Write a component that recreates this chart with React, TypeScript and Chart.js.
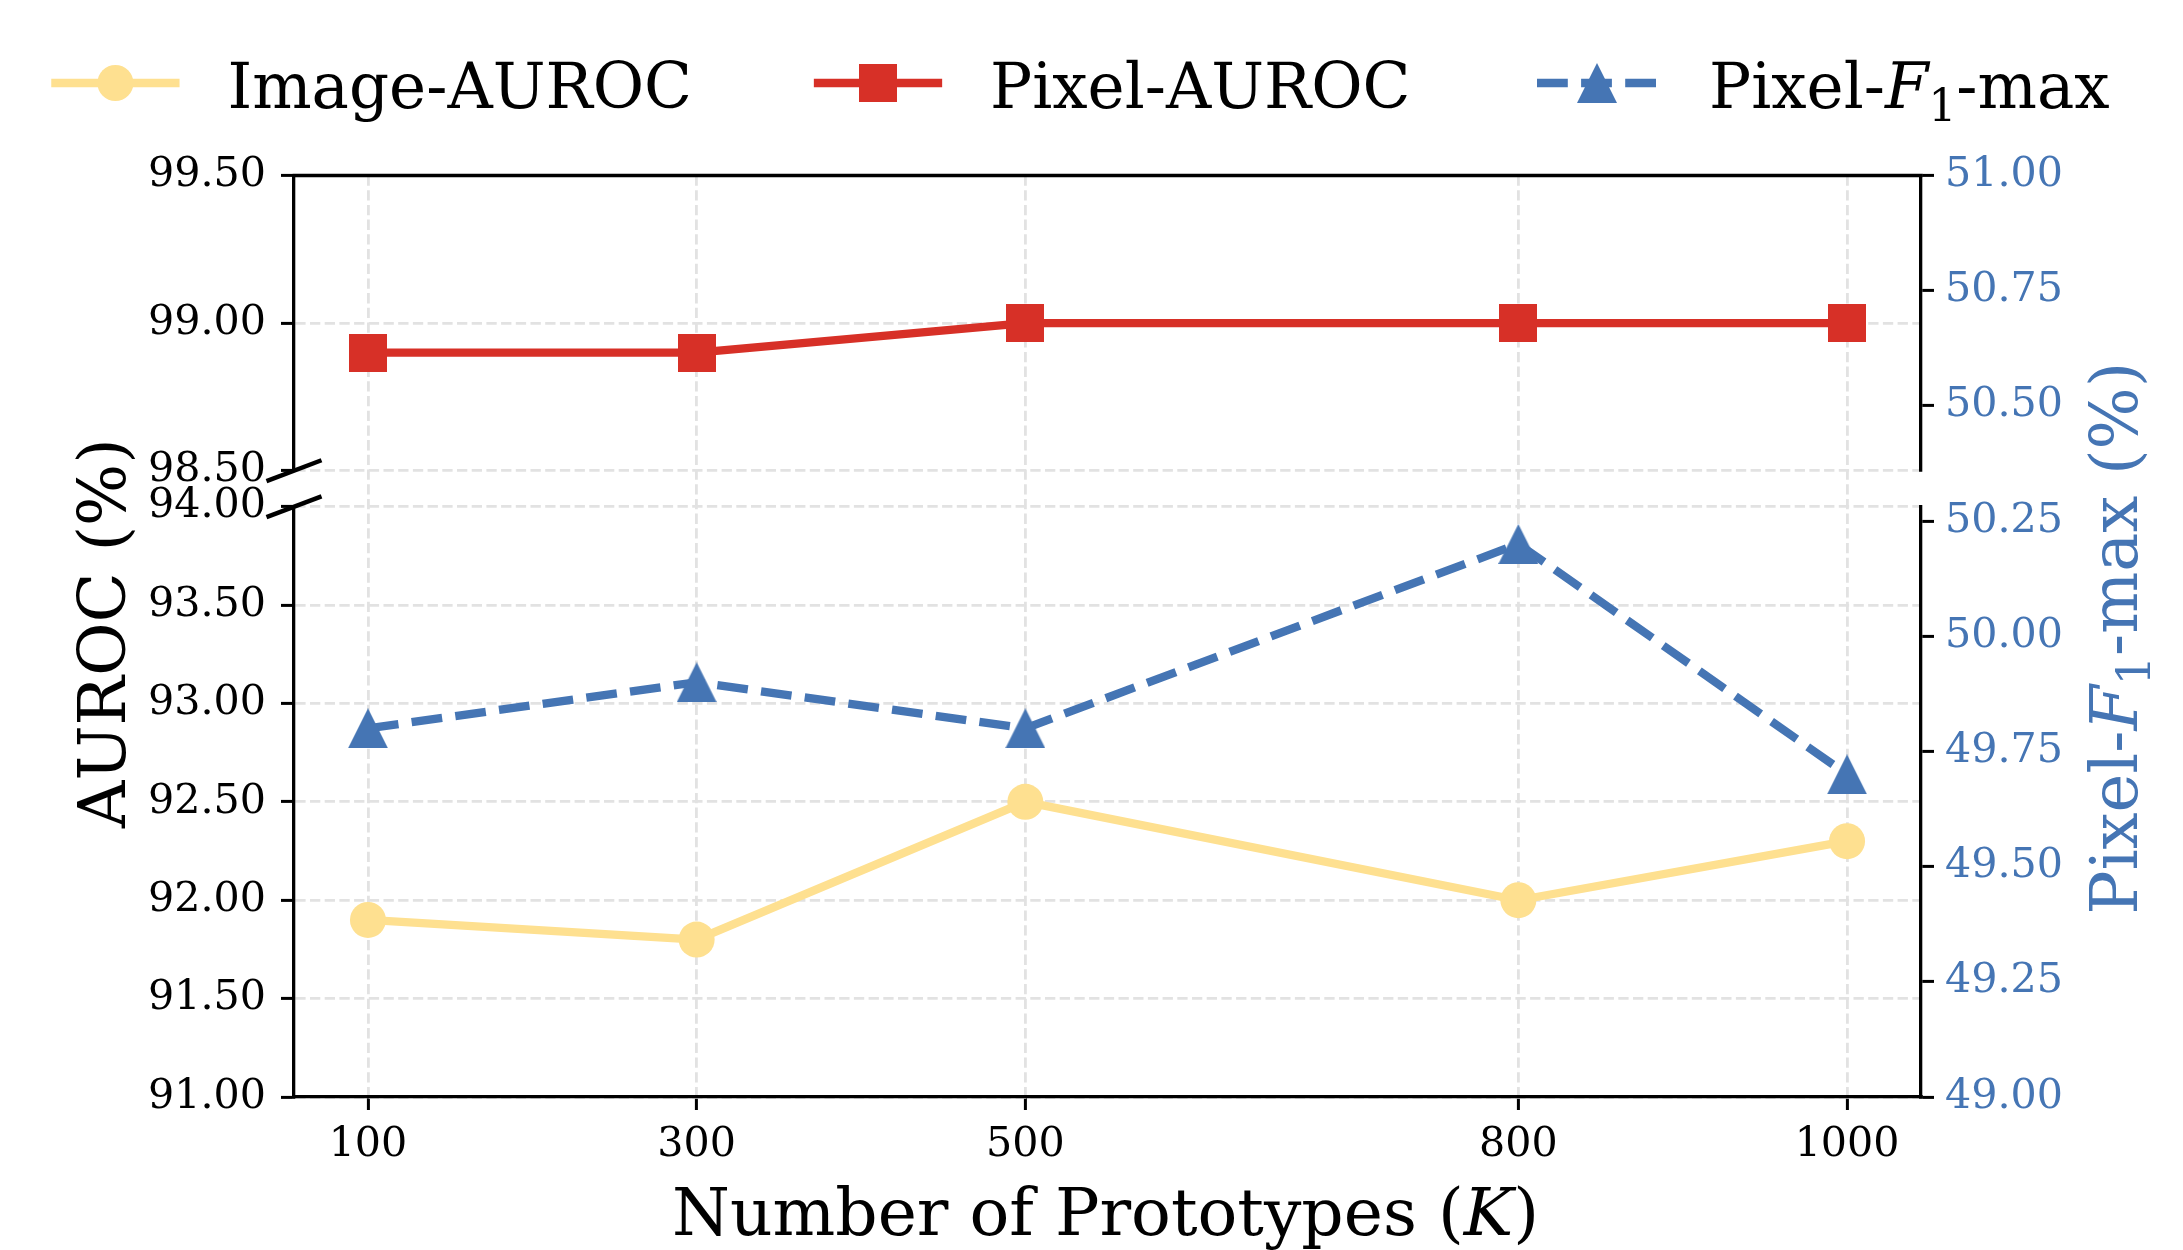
import React, { useEffect, useRef } from 'react';
import { Chart, registerables } from 'chart.js';

Chart.register(...registerables);

// ---- data ----
const K_VALUES = [100, 300, 500, 800, 1000];
const IMAGE_AUROC = [91.9, 91.8, 92.5, 92.0, 92.3];
const PIXEL_AUROC = [98.9, 98.9, 99.0, 99.0, 99.0];
const PIXEL_F1_MAX = [49.8, 49.9, 49.8, 50.2, 49.7];

// ---- ticks and ranges ----
const X_TICKS = [100, 300, 500, 800, 1000];
const X_RANGE = [55, 1045];
const UPPER_AUROC_TICKS = [98.5, 99.0, 99.5];
const UPPER_AUROC_RANGE = [98.5, 99.5];
const LOWER_AUROC_TICKS = [91.0, 91.5, 92.0, 92.5, 93.0, 93.5, 94.0];
const LOWER_AUROC_RANGE = [91.0, 94.0];
const UPPER_F1_TICKS = [50.5, 50.75, 51.0];
const UPPER_F1_RANGE = [50.359, 51.0];
const LOWER_F1_TICKS = [49.0, 49.25, 49.5, 49.75, 50.0, 50.25];
const LOWER_F1_RANGE = [49.0, 50.281];

// ---- styling ----
const W = 2183;
const H = 1250;
const SERIF = '"DejaVu Serif", serif';
const YELLOW = '#fee090';
const RED = '#d73027';
const BLUE = '#4575b4';
const GRID_COLOR = '#e2e2e2';
const GRID_DASH = [10.3, 4.4];
const SPINE_W = 3.3;
const LINE_W = 8.3;
const LINE_DASH = [30.8, 13.3];
const TICK_FONT = 41.2;
const LABEL_FONT = 65.5;
const X_LABEL_FONT = 66.2;
const LEGEND_FONT = 62.7;

const LEFT_W = 294;
const RIGHT_W = W - 1921;
const TOP_PAD = 175.5;
const X_AXIS_H = H - 1097;
const UPPER_H = 295;
const GAP_H = 36;
const LOWER_H = 590;

type Run = { t: string; italic?: boolean; sub?: boolean };

function runFont(r: Run, size: number) {
  const s = r.sub ? size * 0.7 : size;
  return `${r.italic ? 'italic ' : ''}${s}px ${SERIF}`;
}

function runsWidth(ctx: CanvasRenderingContext2D, runs: Run[], size: number) {
  let w = 0;
  for (const r of runs) {
    ctx.font = runFont(r, size);
    w += ctx.measureText(r.t).width;
  }
  return w;
}

function drawRuns(ctx: CanvasRenderingContext2D, runs: Run[], x: number, y: number, size: number, color: string) {
  ctx.fillStyle = color;
  ctx.textAlign = 'left';
  ctx.textBaseline = 'alphabetic';
  let cx = x;
  for (const r of runs) {
    ctx.font = runFont(r, size);
    ctx.fillText(r.t, cx, y + (r.sub ? size * 0.2 : 0));
    cx += ctx.measureText(r.t).width;
  }
}

const F1_LABEL: Run[] = [{ t: 'Pixel-' }, { t: 'F', italic: true }, { t: '1', sub: true }, { t: '-max' }];
const F1_TITLE: Run[] = [...F1_LABEL, { t: ' (%)' }];
const X_TITLE: Run[] = [{ t: 'Number of Prototypes (' }, { t: 'K', italic: true }, { t: ')' }];
const Y_TITLE: Run[] = [{ t: 'AUROC (%)' }];

function makeSquare(size: number, color: string) {
  const c = document.createElement('canvas');
  c.width = size;
  c.height = size;
  const g = c.getContext('2d')!;
  g.fillStyle = color;
  g.fillRect(0, 0, size, size);
  return c;
}

function makeTriangle(w: number, h: number, color: string) {
  const c = document.createElement('canvas');
  c.width = w;
  c.height = h;
  const g = c.getContext('2d')!;
  g.fillStyle = color;
  g.beginPath();
  g.moveTo(w / 2, 0);
  g.lineTo(w, h);
  g.lineTo(0, h);
  g.closePath();
  g.fill();
  return c;
}

function valueAxis(cfg: {
  side: 'left' | 'right';
  weight: number;
  stackWeight: number;
  range: number[];
  ticks: number[];
  color: string;
}) {
  return {
    type: 'linear',
    position: cfg.side,
    stack: cfg.side,
    stackWeight: cfg.stackWeight,
    weight: cfg.weight,
    min: cfg.range[0],
    max: cfg.range[1],
    afterBuildTicks: (s: any) => {
      s.ticks = cfg.ticks.map((v) => ({ value: v }));
    },
    afterFit: (s: any) => {
      s.width = cfg.side === 'left' ? LEFT_W : RIGHT_W;
    },
    ticks: {
      font: { family: SERIF, size: TICK_FONT },
      color: cfg.color,
      padding: cfg.side === 'left' ? 15 : 11,
      autoSkip: false,
      callback: (v: any) => Number(v).toFixed(2),
    },
    grid: {
      display: true,
      drawOnChartArea: cfg.side === 'left',
      color: GRID_COLOR,
      lineWidth: 2.8,
      drawTicks: true,
      tickLength: 13,
      tickColor: '#000',
      tickWidth: 3,
    },
    border: { display: true, color: '#000', width: SPINE_W, dash: GRID_DASH },
  };
}

function gapAxis(side: 'left' | 'right', weight: number) {
  return {
    type: 'linear',
    position: side,
    stack: side,
    stackWeight: GAP_H,
    weight,
    min: 0,
    max: 1,
    ticks: { display: false },
    grid: { display: false },
    border: { display: false },
    afterFit: (s: any) => {
      s.width = side === 'left' ? LEFT_W : RIGHT_W;
    },
  };
}

const decorations = {
  id: 'decorations',
  afterDraw(chart: any) {
    const { ctx, chartArea } = chart;
    const { left, right, top } = chartArea;
    const upper = chart.scales.auUpper;
    const lower = chart.scales.auLower;

    ctx.save();
    // top spine
    ctx.strokeStyle = '#000';
    ctx.lineWidth = SPINE_W;
    ctx.lineCap = 'butt';
    ctx.beginPath();
    ctx.moveTo(left - SPINE_W / 2, top);
    ctx.lineTo(right + SPINE_W / 2, top);
    ctx.stroke();

    // break marks on the left spine
    ctx.lineWidth = 4.5;
    for (const y of [upper.bottom, lower.top]) {
      ctx.beginPath();
      ctx.moveTo(left - 27.5, y + 10.4);
      ctx.lineTo(left + 27.5, y - 10.4);
      ctx.stroke();
    }

    // left axis title
    ctx.save();
    ctx.translate(125, 633);
    ctx.rotate(-Math.PI / 2);
    drawRuns(ctx, Y_TITLE, -runsWidth(ctx, Y_TITLE, LABEL_FONT) / 2, 0, LABEL_FONT, '#000');
    ctx.restore();

    // right axis title
    ctx.save();
    ctx.translate(2137, 638);
    ctx.rotate(-Math.PI / 2);
    drawRuns(ctx, F1_TITLE, -runsWidth(ctx, F1_TITLE, LABEL_FONT) / 2, 0, LABEL_FONT, BLUE);
    ctx.restore();

    // x axis title
    const cx = (left + right) / 2 - 2;
    drawRuns(ctx, X_TITLE, cx - runsWidth(ctx, X_TITLE, X_LABEL_FONT) / 2, 1235, X_LABEL_FONT, '#000');

    // legend
    const ds = chart.data.datasets;
    const handleLen = 120;
    const ly = 83;
    const starts = [55.4, 818, 1537];
    const labels: Run[][] = [[{ t: ds[0].label }], [{ t: ds[1].label }], F1_LABEL];
    ds.forEach((d: any, i: number) => {
      const x0 = starts[i];
      ctx.save();
      ctx.strokeStyle = d.borderColor;
      ctx.lineWidth = d.borderWidth;
      ctx.setLineDash(d.borderDash || []);
      ctx.lineCap = d.borderDash && d.borderDash.length ? 'butt' : 'square';
      ctx.beginPath();
      ctx.moveTo(x0, ly);
      ctx.lineTo(x0 + handleLen, ly);
      ctx.stroke();
      ctx.restore();
      const mx = x0 + handleLen / 2;
      const style = d.pointStyle;
      if (style === 'circle') {
        ctx.fillStyle = d.pointBackgroundColor;
        ctx.beginPath();
        ctx.arc(mx, ly, d.pointRadius, 0, Math.PI * 2);
        ctx.fill();
      } else {
        ctx.drawImage(style, mx - style.width / 2, ly - style.height / 2);
      }
      drawRuns(ctx, labels[i], x0 + handleLen + 52, 108, LEGEND_FONT, '#000');
    });
    ctx.restore();
  },
};

export default function App() {
  const ref = useRef<HTMLCanvasElement>(null);

  useEffect(() => {
    const canvas = ref.current;
    if (!canvas) return;
    const square = makeSquare(38, RED);
    const triangle = makeTriangle(40, 40, BLUE);

    const pts = (ys: number[]) => K_VALUES.map((k, i) => ({ x: k, y: ys[i] }));

    const chart = new Chart(canvas, {
      type: 'line',
      data: {
        datasets: [
          {
            label: 'Image-AUROC',
            data: pts(IMAGE_AUROC),
            yAxisID: 'auLower',
            borderColor: YELLOW,
            backgroundColor: YELLOW,
            borderWidth: LINE_W,
            borderJoinStyle: 'round',
            pointStyle: 'circle',
            pointRadius: 18,
            pointBackgroundColor: YELLOW,
            pointBorderWidth: 0,
            clip: false,
          },
          {
            label: 'Pixel-AUROC',
            data: pts(PIXEL_AUROC),
            yAxisID: 'auUpper',
            borderColor: RED,
            backgroundColor: RED,
            borderWidth: LINE_W,
            borderJoinStyle: 'round',
            pointStyle: square,
            pointRadius: 19,
            pointBorderWidth: 0,
            clip: false,
          },
          {
            label: 'Pixel-F1-max',
            data: pts(PIXEL_F1_MAX),
            yAxisID: 'f1Lower',
            borderColor: BLUE,
            backgroundColor: BLUE,
            borderWidth: LINE_W,
            borderDash: LINE_DASH,
            borderJoinStyle: 'round',
            pointStyle: triangle,
            pointRadius: 20,
            pointBorderWidth: 0,
            clip: false,
          },
        ] as any,
      },
      options: {
        responsive: false,
        animation: false,
        devicePixelRatio: 1,
        events: [],
        layout: { padding: { top: TOP_PAD, left: 0, right: 0, bottom: 0 } },
        plugins: { legend: { display: false }, tooltip: { enabled: false } },
        scales: {
          x: {
            type: 'linear',
            position: 'bottom',
            min: X_RANGE[0],
            max: X_RANGE[1],
            afterBuildTicks: (s: any) => {
              s.ticks = X_TICKS.map((v) => ({ value: v }));
            },
            afterFit: (s: any) => {
              s.height = X_AXIS_H;
            },
            ticks: {
              font: { family: SERIF, size: TICK_FONT },
              color: '#000',
              padding: 11,
              autoSkip: false,
              maxRotation: 0,
              callback: (v: any) => String(v),
            },
            grid: {
              color: GRID_COLOR,
              lineWidth: 2.8,
              tickLength: 13,
              tickColor: '#000',
              tickWidth: 3,
            },
            border: { display: true, color: '#000', width: SPINE_W, dash: GRID_DASH },
          },
          auLower: valueAxis({ side: 'left', weight: 1, stackWeight: LOWER_H, range: LOWER_AUROC_RANGE, ticks: LOWER_AUROC_TICKS, color: '#000' }),
          auGap: gapAxis('left', 2),
          auUpper: valueAxis({ side: 'left', weight: 3, stackWeight: UPPER_H, range: UPPER_AUROC_RANGE, ticks: UPPER_AUROC_TICKS, color: '#000' }),
          f1Upper: valueAxis({ side: 'right', weight: 1, stackWeight: UPPER_H, range: UPPER_F1_RANGE, ticks: UPPER_F1_TICKS, color: BLUE }),
          f1Gap: gapAxis('right', 2),
          f1Lower: valueAxis({ side: 'right', weight: 3, stackWeight: LOWER_H, range: LOWER_F1_RANGE, ticks: LOWER_F1_TICKS, color: BLUE }),
        } as any,
      },
      plugins: [decorations],
    });

    return () => chart.destroy();
  }, []);

  return (
    <div style={{ position: 'fixed', left: 0, top: 0, width: W, height: H, background: '#fff' }}>
      <canvas ref={ref} width={W} height={H} style={{ display: 'block', width: W, height: H }} />
    </div>
  );
}
